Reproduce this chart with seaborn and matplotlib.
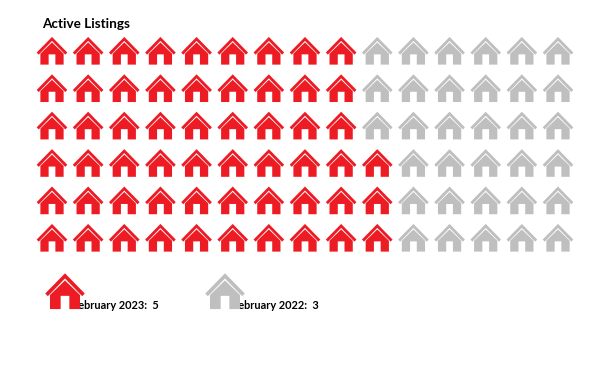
import pandas as pd
import matplotlib
matplotlib.use("Agg")
import matplotlib.pyplot as plt
from matplotlib.path import Path
import seaborn as sns

# =========================
# DATA
# =========================
RED_PER_ROW = [9, 9, 9, 10, 10, 10]
N_COLS = 15
SERIES = ["February 2023", "February 2022"]
SERIES_VALUES = [5, 3]
TITLE = "Active Listings"

RED = "#ED1C24"
GRAY = "#BFBFBF"
PALETTE = {SERIES[0]: RED, SERIES[1]: GRAY}

# house icon: roof chevron + body with a door
ROOF = [(0, .92), (1, -.10), (.87, -.24), (0, .66), (-.87, -.24), (-1, -.10)]
BODY = [(0, .56), (.76, -.18), (.76, -.89), (.22, -.89), (.22, -.22),
        (-.22, -.22), (-.22, -.89), (-.76, -.89), (-.76, -.18)]


def poly(points):
    verts = points + [points[0]]
    codes = [Path.MOVETO] + [Path.LINETO] * (len(points) - 1) + [Path.CLOSEPOLY]
    return verts, codes


rv, rc = poly(ROOF)
bv, bc = poly(BODY)
HOUSE = Path(rv + bv, rc + bc)

# one row per house
rows = []
for r, n_red in enumerate(RED_PER_ROW):
    for c in range(N_COLS):
        rows.append({"row": r, "col": c, "series": SERIES[0] if c < n_red else SERIES[1]})
df = pd.DataFrame(rows)

W, H = 615, 382
fig = plt.figure(figsize=(W / 100, H / 100), dpi=100)
sns.set_style("white")
plt.rcParams["font.family"] = ["Lato", "DejaVu Sans"]

# grid of houses: axes spans first to last house centre
ax = fig.add_axes([52 / W, 1 - 238 / H, 506 / W, 187 / H])
sns.scatterplot(data=df, x="col", y="row", hue="series", palette=PALETTE, marker=HOUSE,
                s=(30.6 * 0.72) ** 2, linewidth=0, legend=False, clip_on=False, ax=ax)
ax.set_xlim(0, N_COLS - 1)
ax.set_ylim(len(RED_PER_ROW) - 1, 0)
ax.axis("off")

# legend overlay, in pixel coordinates
lg = fig.add_axes([0, 0, 1, 1], facecolor="none")

lg.text(42, 28, TITLE, fontsize=9.7, fontweight="bold", color="black")

legend_df = pd.DataFrame({"x": [65, 225], "y": [291.5, 291.5], "series": SERIES})
text_x = [72, 232]
for name, val, tx in zip(SERIES, SERIES_VALUES, text_x):
    lg.text(tx, 309, f"{name}:  {val}", fontsize=7.9, fontweight="bold", color="black",
            va="baseline", zorder=1)
sns.scatterplot(data=legend_df, x="x", y="y", hue="series", palette=PALETTE, marker=HOUSE,
                s=(39.5 * 0.72) ** 2, linewidth=0, legend=False, zorder=3, ax=lg)
lg.set_xlim(0, W)
lg.set_ylim(H, 0)
lg.axis("off")

fig.savefig("out.png", dpi=100, facecolor="white")
plt.close(fig)
